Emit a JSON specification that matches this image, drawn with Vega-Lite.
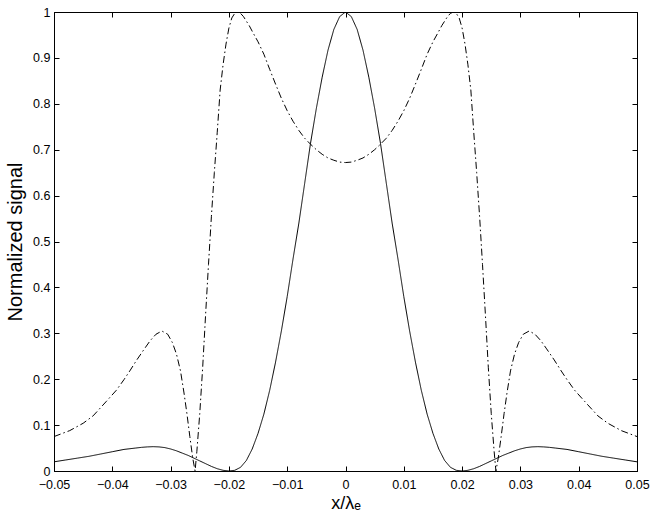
{
  "$schema": "https://vega.github.io/schema/vega-lite/v6.json",
  "autosize": "none",
  "width": 583,
  "height": 459,
  "padding": {"left": 54, "top": 12, "right": 17, "bottom": 54},
  "background": "white",
  "config": {
    "font": "Liberation Sans",
    "view": {"stroke": "black", "strokeWidth": 1},
    "axis": {
      "grid": false,
      "domainColor": "black",
      "tickColor": "black",
      "labelColor": "black",
      "titleColor": "black",
      "labelFontSize": 12.5,
      "titleFontSize": 20,
      "titleFontWeight": "normal",
      "tickSize": -5,
      "labelFlush": false,
      "labelOverlap": false
    }
  },
  "data": {
    "values": [
      {"x": -0.05, "y": 0.02, "s": "solid"},
      {"x": -0.048, "y": 0.024, "s": "solid"},
      {"x": -0.046, "y": 0.028, "s": "solid"},
      {"x": -0.044, "y": 0.032, "s": "solid"},
      {"x": -0.042, "y": 0.037, "s": "solid"},
      {"x": -0.04, "y": 0.042, "s": "solid"},
      {"x": -0.038, "y": 0.047, "s": "solid"},
      {"x": -0.036, "y": 0.05, "s": "solid"},
      {"x": -0.035, "y": 0.0515, "s": "solid"},
      {"x": -0.034, "y": 0.0525, "s": "solid"},
      {"x": -0.033, "y": 0.053, "s": "solid"},
      {"x": -0.032, "y": 0.0525, "s": "solid"},
      {"x": -0.031, "y": 0.051, "s": "solid"},
      {"x": -0.03, "y": 0.048, "s": "solid"},
      {"x": -0.029, "y": 0.044, "s": "solid"},
      {"x": -0.028, "y": 0.039, "s": "solid"},
      {"x": -0.027, "y": 0.034, "s": "solid"},
      {"x": -0.026, "y": 0.028, "s": "solid"},
      {"x": -0.025, "y": 0.022, "s": "solid"},
      {"x": -0.024, "y": 0.016, "s": "solid"},
      {"x": -0.023, "y": 0.01, "s": "solid"},
      {"x": -0.022, "y": 0.005, "s": "solid"},
      {"x": -0.021, "y": 0.0015, "s": "solid"},
      {"x": -0.02, "y": 0, "s": "solid"},
      {"x": -0.019, "y": 0.0015, "s": "solid"},
      {"x": -0.018, "y": 0.008, "s": "solid"},
      {"x": -0.017, "y": 0.023, "s": "solid"},
      {"x": -0.016, "y": 0.048, "s": "solid"},
      {"x": -0.015, "y": 0.082, "s": "solid"},
      {"x": -0.014, "y": 0.124, "s": "solid"},
      {"x": -0.013, "y": 0.176, "s": "solid"},
      {"x": -0.012, "y": 0.237, "s": "solid"},
      {"x": -0.011, "y": 0.305, "s": "solid"},
      {"x": -0.01, "y": 0.38, "s": "solid"},
      {"x": -0.009, "y": 0.462, "s": "solid"},
      {"x": -0.008, "y": 0.54, "s": "solid"},
      {"x": -0.007, "y": 0.627, "s": "solid"},
      {"x": -0.006, "y": 0.714, "s": "solid"},
      {"x": -0.005, "y": 0.79, "s": "solid"},
      {"x": -0.004, "y": 0.858, "s": "solid"},
      {"x": -0.003, "y": 0.917, "s": "solid"},
      {"x": -0.002, "y": 0.962, "s": "solid"},
      {"x": -0.001, "y": 0.99, "s": "solid"},
      {"x": 0, "y": 1, "s": "solid"},
      {"x": 0.001, "y": 0.99, "s": "solid"},
      {"x": 0.002, "y": 0.962, "s": "solid"},
      {"x": 0.003, "y": 0.917, "s": "solid"},
      {"x": 0.004, "y": 0.858, "s": "solid"},
      {"x": 0.005, "y": 0.79, "s": "solid"},
      {"x": 0.006, "y": 0.714, "s": "solid"},
      {"x": 0.007, "y": 0.627, "s": "solid"},
      {"x": 0.008, "y": 0.54, "s": "solid"},
      {"x": 0.009, "y": 0.462, "s": "solid"},
      {"x": 0.01, "y": 0.38, "s": "solid"},
      {"x": 0.011, "y": 0.305, "s": "solid"},
      {"x": 0.012, "y": 0.237, "s": "solid"},
      {"x": 0.013, "y": 0.176, "s": "solid"},
      {"x": 0.014, "y": 0.124, "s": "solid"},
      {"x": 0.015, "y": 0.082, "s": "solid"},
      {"x": 0.016, "y": 0.048, "s": "solid"},
      {"x": 0.017, "y": 0.023, "s": "solid"},
      {"x": 0.018, "y": 0.008, "s": "solid"},
      {"x": 0.019, "y": 0.0015, "s": "solid"},
      {"x": 0.02, "y": 0, "s": "solid"},
      {"x": 0.021, "y": 0.0015, "s": "solid"},
      {"x": 0.022, "y": 0.005, "s": "solid"},
      {"x": 0.023, "y": 0.01, "s": "solid"},
      {"x": 0.024, "y": 0.016, "s": "solid"},
      {"x": 0.025, "y": 0.022, "s": "solid"},
      {"x": 0.026, "y": 0.028, "s": "solid"},
      {"x": 0.027, "y": 0.034, "s": "solid"},
      {"x": 0.028, "y": 0.039, "s": "solid"},
      {"x": 0.029, "y": 0.044, "s": "solid"},
      {"x": 0.03, "y": 0.048, "s": "solid"},
      {"x": 0.031, "y": 0.051, "s": "solid"},
      {"x": 0.032, "y": 0.0525, "s": "solid"},
      {"x": 0.033, "y": 0.053, "s": "solid"},
      {"x": 0.034, "y": 0.0525, "s": "solid"},
      {"x": 0.035, "y": 0.0515, "s": "solid"},
      {"x": 0.036, "y": 0.05, "s": "solid"},
      {"x": 0.038, "y": 0.047, "s": "solid"},
      {"x": 0.04, "y": 0.042, "s": "solid"},
      {"x": 0.042, "y": 0.037, "s": "solid"},
      {"x": 0.044, "y": 0.032, "s": "solid"},
      {"x": 0.046, "y": 0.028, "s": "solid"},
      {"x": 0.048, "y": 0.024, "s": "solid"},
      {"x": 0.05, "y": 0.02, "s": "solid"},

      {"x": -0.05, "y": 0.075, "s": "dashdot"},
      {"x": -0.0473, "y": 0.088, "s": "dashdot"},
      {"x": -0.045, "y": 0.104, "s": "dashdot"},
      {"x": -0.0433, "y": 0.12, "s": "dashdot"},
      {"x": -0.041, "y": 0.152, "s": "dashdot"},
      {"x": -0.0393, "y": 0.176, "s": "dashdot"},
      {"x": -0.038, "y": 0.199, "s": "dashdot"},
      {"x": -0.037, "y": 0.218, "s": "dashdot"},
      {"x": -0.0358, "y": 0.242, "s": "dashdot"},
      {"x": -0.0345, "y": 0.266, "s": "dashdot"},
      {"x": -0.0335, "y": 0.284, "s": "dashdot"},
      {"x": -0.0325, "y": 0.298, "s": "dashdot"},
      {"x": -0.0315, "y": 0.305, "s": "dashdot"},
      {"x": -0.0305, "y": 0.298, "s": "dashdot"},
      {"x": -0.0297, "y": 0.28, "s": "dashdot"},
      {"x": -0.029, "y": 0.255, "s": "dashdot"},
      {"x": -0.0283, "y": 0.218, "s": "dashdot"},
      {"x": -0.0277, "y": 0.17, "s": "dashdot"},
      {"x": -0.0272, "y": 0.125, "s": "dashdot"},
      {"x": -0.0267, "y": 0.075, "s": "dashdot"},
      {"x": -0.0262, "y": 0.028, "s": "dashdot"},
      {"x": -0.0258, "y": 0, "s": "dashdot"},
      {"x": -0.0255, "y": 0.042, "s": "dashdot"},
      {"x": -0.025, "y": 0.125, "s": "dashdot"},
      {"x": -0.0245, "y": 0.225, "s": "dashdot"},
      {"x": -0.024, "y": 0.34, "s": "dashdot"},
      {"x": -0.0235, "y": 0.45, "s": "dashdot"},
      {"x": -0.023, "y": 0.555, "s": "dashdot"},
      {"x": -0.0225, "y": 0.65, "s": "dashdot"},
      {"x": -0.022, "y": 0.738, "s": "dashdot"},
      {"x": -0.0215, "y": 0.83, "s": "dashdot"},
      {"x": -0.021, "y": 0.885, "s": "dashdot"},
      {"x": -0.0205, "y": 0.93, "s": "dashdot"},
      {"x": -0.02, "y": 0.965, "s": "dashdot"},
      {"x": -0.0195, "y": 0.987, "s": "dashdot"},
      {"x": -0.019, "y": 0.997, "s": "dashdot"},
      {"x": -0.0185, "y": 1.0, "s": "dashdot"},
      {"x": -0.018, "y": 0.997, "s": "dashdot"},
      {"x": -0.0175, "y": 0.99, "s": "dashdot"},
      {"x": -0.017, "y": 0.98, "s": "dashdot"},
      {"x": -0.0165, "y": 0.97, "s": "dashdot"},
      {"x": -0.016, "y": 0.958, "s": "dashdot"},
      {"x": -0.015, "y": 0.935, "s": "dashdot"},
      {"x": -0.014, "y": 0.908, "s": "dashdot"},
      {"x": -0.013, "y": 0.875, "s": "dashdot"},
      {"x": -0.012, "y": 0.843, "s": "dashdot"},
      {"x": -0.011, "y": 0.812, "s": "dashdot"},
      {"x": -0.01, "y": 0.785, "s": "dashdot"},
      {"x": -0.009, "y": 0.762, "s": "dashdot"},
      {"x": -0.008, "y": 0.742, "s": "dashdot"},
      {"x": -0.007, "y": 0.725, "s": "dashdot"},
      {"x": -0.006, "y": 0.712, "s": "dashdot"},
      {"x": -0.005, "y": 0.7, "s": "dashdot"},
      {"x": -0.004, "y": 0.69, "s": "dashdot"},
      {"x": -0.003, "y": 0.682, "s": "dashdot"},
      {"x": -0.002, "y": 0.677, "s": "dashdot"},
      {"x": -0.001, "y": 0.673, "s": "dashdot"},
      {"x": 0, "y": 0.672, "s": "dashdot"},
      {"x": 0.001, "y": 0.673, "s": "dashdot"},
      {"x": 0.002, "y": 0.677, "s": "dashdot"},
      {"x": 0.003, "y": 0.682, "s": "dashdot"},
      {"x": 0.004, "y": 0.69, "s": "dashdot"},
      {"x": 0.005, "y": 0.7, "s": "dashdot"},
      {"x": 0.006, "y": 0.712, "s": "dashdot"},
      {"x": 0.007, "y": 0.725, "s": "dashdot"},
      {"x": 0.008, "y": 0.742, "s": "dashdot"},
      {"x": 0.009, "y": 0.762, "s": "dashdot"},
      {"x": 0.01, "y": 0.785, "s": "dashdot"},
      {"x": 0.011, "y": 0.812, "s": "dashdot"},
      {"x": 0.012, "y": 0.843, "s": "dashdot"},
      {"x": 0.013, "y": 0.875, "s": "dashdot"},
      {"x": 0.014, "y": 0.908, "s": "dashdot"},
      {"x": 0.015, "y": 0.935, "s": "dashdot"},
      {"x": 0.016, "y": 0.958, "s": "dashdot"},
      {"x": 0.0165, "y": 0.97, "s": "dashdot"},
      {"x": 0.017, "y": 0.98, "s": "dashdot"},
      {"x": 0.0175, "y": 0.99, "s": "dashdot"},
      {"x": 0.018, "y": 0.997, "s": "dashdot"},
      {"x": 0.0185, "y": 1.0, "s": "dashdot"},
      {"x": 0.019, "y": 0.997, "s": "dashdot"},
      {"x": 0.0195, "y": 0.987, "s": "dashdot"},
      {"x": 0.02, "y": 0.965, "s": "dashdot"},
      {"x": 0.0205, "y": 0.93, "s": "dashdot"},
      {"x": 0.021, "y": 0.885, "s": "dashdot"},
      {"x": 0.0215, "y": 0.83, "s": "dashdot"},
      {"x": 0.022, "y": 0.738, "s": "dashdot"},
      {"x": 0.0225, "y": 0.65, "s": "dashdot"},
      {"x": 0.023, "y": 0.555, "s": "dashdot"},
      {"x": 0.0235, "y": 0.45, "s": "dashdot"},
      {"x": 0.024, "y": 0.34, "s": "dashdot"},
      {"x": 0.0245, "y": 0.225, "s": "dashdot"},
      {"x": 0.025, "y": 0.125, "s": "dashdot"},
      {"x": 0.0255, "y": 0.042, "s": "dashdot"},
      {"x": 0.0258, "y": 0, "s": "dashdot"},
      {"x": 0.0262, "y": 0.028, "s": "dashdot"},
      {"x": 0.0267, "y": 0.075, "s": "dashdot"},
      {"x": 0.0272, "y": 0.125, "s": "dashdot"},
      {"x": 0.0277, "y": 0.17, "s": "dashdot"},
      {"x": 0.0283, "y": 0.218, "s": "dashdot"},
      {"x": 0.029, "y": 0.255, "s": "dashdot"},
      {"x": 0.0297, "y": 0.28, "s": "dashdot"},
      {"x": 0.0305, "y": 0.298, "s": "dashdot"},
      {"x": 0.0315, "y": 0.305, "s": "dashdot"},
      {"x": 0.0325, "y": 0.298, "s": "dashdot"},
      {"x": 0.0335, "y": 0.284, "s": "dashdot"},
      {"x": 0.0345, "y": 0.266, "s": "dashdot"},
      {"x": 0.0358, "y": 0.242, "s": "dashdot"},
      {"x": 0.037, "y": 0.218, "s": "dashdot"},
      {"x": 0.038, "y": 0.199, "s": "dashdot"},
      {"x": 0.0393, "y": 0.176, "s": "dashdot"},
      {"x": 0.041, "y": 0.152, "s": "dashdot"},
      {"x": 0.0433, "y": 0.12, "s": "dashdot"},
      {"x": 0.045, "y": 0.104, "s": "dashdot"},
      {"x": 0.0473, "y": 0.088, "s": "dashdot"},
      {"x": 0.05, "y": 0.075, "s": "dashdot"}
    ]
  },
  "layer": [
    {
      "mark": {"type": "line", "color": "black", "strokeWidth": 1, "clip": true},
      "encoding": {
        "x": {
          "field": "x", "type": "quantitative",
          "scale": {"domain": [-0.05, 0.05], "nice": false, "zero": false},
          "axis": {
            "orient": "bottom",
            "values": [-0.05, -0.04, -0.03, -0.02, -0.01, 0, 0.01, 0.02, 0.03, 0.04, 0.05],
            "format": "~g",
            "labelPadding": 12,
            "title": "x/λₑ",
            "titleFontSize": 18,
            "titleX": 291.5,
            "titleY": 37,
            "titleAlign": "center",
            "titleBaseline": "alphabetic"
          }
        },
        "y": {
          "field": "y", "type": "quantitative",
          "scale": {"domain": [0, 1], "nice": false},
          "axis": {
            "orient": "left",
            "values": [0, 0.1, 0.2, 0.3, 0.4, 0.5, 0.6, 0.7, 0.8, 0.9, 1],
            "format": "~g",
            "labelPadding": 9,
            "title": "Normalized signal",
            "titleX": -39,
            "titleY": 229.5,
            "titleAngle": -90,
            "titleAlign": "center",
            "titleBaseline": "middle"
          }
        },
        "strokeDash": {
          "field": "s", "type": "nominal",
          "scale": {"domain": ["solid", "dashdot"], "range": [[1, 0], [7, 3, 1.5, 3]]},
          "legend": null
        }
      }
    },
    {
      "mark": {"type": "line", "opacity": 0},
      "encoding": {
        "x": {
          "field": "x", "type": "quantitative",
          "axis": {
            "orient": "top",
            "values": [-0.05, -0.04, -0.03, -0.02, -0.01, 0, 0.01, 0.02, 0.03, 0.04, 0.05],
            "labels": false, "title": null, "domain": false
          }
        },
        "y": {
          "field": "y", "type": "quantitative",
          "axis": {
            "orient": "right",
            "values": [0, 0.1, 0.2, 0.3, 0.4, 0.5, 0.6, 0.7, 0.8, 0.9, 1],
            "labels": false, "title": null, "domain": false
          }
        },
        "detail": {"field": "s", "type": "nominal"}
      }
    }
  ],
  "resolve": {"axis": {"x": "independent", "y": "independent"}}
}
